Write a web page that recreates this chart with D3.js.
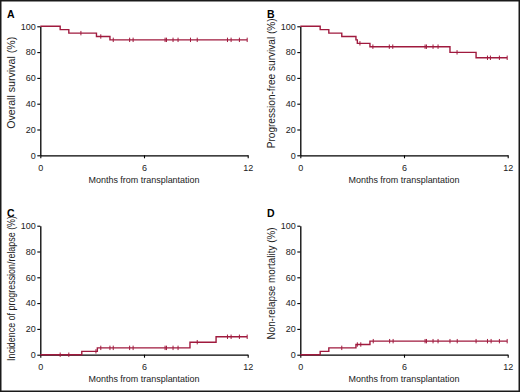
<!DOCTYPE html>
<html>
<head>
<meta charset="utf-8">
<script src="https://cdn.jsdelivr.net/npm/d3@7"></script>
<style>
  body { margin: 0; background: #fff; }
  svg { display: block; }
</style>
</head>
<body>
<div id="chart"></div>
<script>
// axis ticks
const monthTicks = [0, 6, 12];
const pctTicks = [0, 20, 40, 60, 80, 100];

// A - overall survival
const osTimes = [0, 1.15, 1.65, 3.25, 4.03];
const osValues = [100, 97.4, 94.7, 92.1, 89.5];
const osCensored = [2.35, 3.5, 4.22, 5.17, 5.37, 7.22, 7.3, 7.68, 7.97, 8.69, 9.08, 10.83, 11.04, 11.52, 11.97];

// B - progression-free survival
const pfsTimes = [0, 1.15, 1.65, 2.4, 3.22, 3.3, 4.03, 8.66, 10.17];
const pfsValues = [100, 97.4, 94.7, 92.1, 89.5, 86.8, 84.2, 79.8, 75.6];
const pfsCensored = [3.45, 4.2, 5.15, 5.35, 7.22, 7.3, 7.68, 7.97, 9.07, 10.83, 11.0, 11.52, 11.97];

// C - incidence of progression/relapse
const cirTimes = [0, 2.4, 3.3, 8.66, 10.17];
const cirValues = [0, 2.6, 5.3, 9.7, 13.9];
const cirCensored = [1.15, 1.65, 3.22, 3.5, 4.03, 4.22, 5.17, 5.37, 7.22, 7.3, 7.68, 7.97, 9.08, 10.83, 11.04, 11.52, 11.97];

// D - non-relapse mortality
const nrmTimes = [0, 1.15, 1.65, 3.22, 4.03];
const nrmValues = [0, 2.6, 5.3, 7.9, 10.5];
const nrmCensored = [2.4, 3.3, 3.5, 4.22, 5.17, 5.37, 7.22, 7.3, 7.68, 7.97, 8.66, 9.08, 10.17, 10.83, 11.04, 11.52, 11.97];

const xLabel = 'Months from transplantation';

const panels = [
    { letter: 'A', label: 'Overall survival (%)', times: osTimes, values: osValues, censored: osCensored, ox: 0, oy: 0, labelShift: -8, labelLen: 92 },
    { letter: 'B', label: 'Progression-free survival (%)', times: pfsTimes, values: pfsValues, censored: pfsCensored, ox: 260, oy: 0, labelShift: -7.5, labelLen: 130 },
    { letter: 'C', label: 'Incidence of progression/relapse (%)', times: cirTimes, values: cirValues, censored: cirCensored, ox: 0, oy: 199.4, labelShift: -1.7, labelLen: 145 },
    { letter: 'D', label: 'Non-relapse mortality (%)', times: nrmTimes, values: nrmValues, censored: nrmCensored, ox: 260, oy: 199.4, labelShift: -6.7, labelLen: 112 }
];

const W = 520, H = 392;
const lineColor = '#a01a3e';
const font = '"Liberation Sans", Arial, sans-serif';
const narrow = '"Liberation Sans Narrow", "Liberation Sans", Arial, sans-serif';

const svg = d3.select('#chart')
    .append('svg')
    .attr('width', W)
    .attr('height', H);

svg.append('rect')
    .attr('x', 0.75).attr('y', 0.75)
    .attr('width', W - 1.5).attr('height', H - 1.5)
    .attr('fill', '#fff')
    .attr('stroke', '#1a1a1a')
    .attr('stroke-width', 1.5);

// plot area inside each panel
const plot = { left: 40.3, right: 247.7, top: 26.3, bottom: 155.3 };

function stepValue(times, values, t) {
    let v = values[0];
    for (let i = 0; i < times.length; i++) {
        if (times[i] <= t) v = values[i];
    }
    return v;
}

panels.forEach(p => {
    const g = svg.append('g')
        .attr('transform', `translate(${p.ox},${p.oy})`);

    const x = d3.scaleLinear().domain([0, 12]).range([plot.left, plot.right]);
    const y = d3.scaleLinear().domain([0, 100]).range([plot.bottom, plot.top]);

    // panel letter
    g.append('text')
        .attr('x', 7)
        .attr('y', 18)
        .style('font-family', font)
        .style('font-weight', 'bold')
        .style('font-size', '10.5px')
        .text(p.letter);

    // axes
    const xAxis = g.append('g')
        .attr('transform', `translate(0,${plot.bottom})`)
        .call(d3.axisBottom(x).tickValues(monthTicks).tickFormat(d3.format('d'))
            .tickSizeInner(3).tickSizeOuter(0).tickPadding(6));

    const yAxis = g.append('g')
        .attr('transform', `translate(${plot.left},0)`)
        .call(d3.axisLeft(y).tickValues(pctTicks).tickFormat(d3.format('d'))
            .tickSizeInner(3).tickSizeOuter(0).tickPadding(1.5));

    [xAxis, yAxis].forEach(a => {
        a.select('.domain').attr('stroke', '#000').attr('stroke-width', 1.3);
        a.selectAll('.tick line').attr('stroke', '#000').attr('stroke-width', 1.1);
        a.selectAll('.tick text')
            .style('font-family', narrow)
            .style('font-size', '9px')
            .attr('fill', '#222');
    });

    // axis titles
    g.append('text')
        .attr('x', (plot.left + plot.right) / 2)
        .attr('y', 183)
        .attr('text-anchor', 'middle')
        .attr('textLength', 111)
        .attr('lengthAdjust', 'spacingAndGlyphs')
        .style('font-family', font)
        .style('font-size', '9.8px')
        .attr('fill', '#222')
        .text(xLabel);

    const midY = (plot.top + plot.bottom) / 2 + p.labelShift;
    g.append('text')
        .attr('transform', `translate(15,${midY}) rotate(-90)`)
        .attr('text-anchor', 'middle')
        .attr('textLength', p.labelLen)
        .attr('lengthAdjust', 'spacingAndGlyphs')
        .style('font-family', font)
        .style('font-size', '10px')
        .attr('fill', '#222')
        .text(p.label);

    // step curve, carried to the last follow-up
    const lastT = d3.max(p.censored);
    const pts = p.times.map((t, i) => [t, p.values[i]]);
    pts.push([lastT, p.values[p.values.length - 1]]);

    const line = d3.line()
        .x(d => x(d[0]))
        .y(d => y(d[1]))
        .curve(d3.curveStepAfter);

    g.append('path')
        .datum(pts)
        .attr('d', line)
        .attr('fill', 'none')
        .attr('stroke', lineColor)
        .attr('stroke-width', 1.4);

    // censor marks
    g.selectAll('.censor')
        .data(p.censored)
        .enter()
        .append('line')
        .attr('class', 'censor')
        .attr('x1', d => x(d))
        .attr('x2', d => x(d))
        .attr('y1', d => y(stepValue(p.times, p.values, d)) - 2.2)
        .attr('y2', d => y(stepValue(p.times, p.values, d)) + 2.2)
        .attr('stroke', lineColor)
        .attr('stroke-width', 1);
});
</script>
</body>
</html>
